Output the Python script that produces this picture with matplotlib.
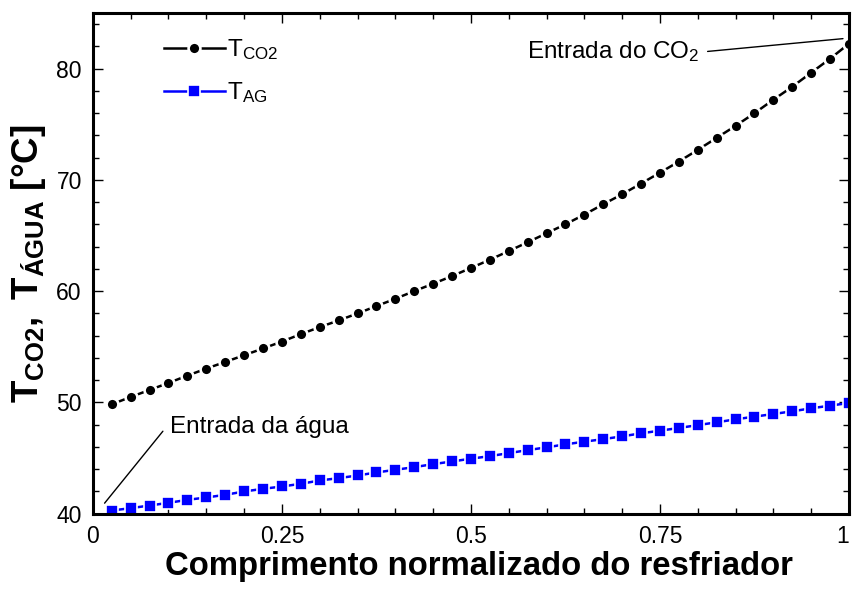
import numpy as np
import matplotlib.pyplot as plt

plt.rcParams['font.family'] = ['Liberation Sans', 'DejaVu Sans']
plt.rcParams['mathtext.fontset'] = 'custom'
plt.rcParams['mathtext.rm'] = 'Liberation Sans'
plt.rcParams['mathtext.it'] = 'Liberation Sans'
plt.rcParams['mathtext.bf'] = 'Liberation Sans:bold'

# ----------- DATA -----------
x = np.arange(1, 41) * 0.025

t_co2 = [49.82, 50.48, 51.11, 51.74, 52.40, 53.03, 53.63, 54.23, 54.84, 55.46,
         56.13, 56.76, 57.36, 57.99, 58.65, 59.31, 60.00, 60.66, 61.35, 62.08,
         62.82, 63.60, 64.39, 65.20, 66.01, 66.88, 67.81, 68.71, 69.67, 70.65,
         71.65, 72.70, 73.78, 74.86, 76.00, 77.21, 78.38, 79.64, 80.90, 82.25]

t_ag = [40.27, 40.48, 40.72, 40.96, 41.23, 41.44, 41.68, 41.98, 42.22, 42.43,
        42.67, 42.97, 43.18, 43.42, 43.69, 43.93, 44.17, 44.44, 44.68, 44.93,
        45.16, 45.43, 45.70, 45.95, 46.22, 46.46, 46.69, 46.94, 47.21, 47.45,
        47.69, 47.95, 48.20, 48.47, 48.71, 48.95, 49.19, 49.46, 49.70, 49.94]

xticks = [0, 0.25, 0.5, 0.75, 1]
xticklabels = ['0', '0.25', '0.5', '0.75', '1']
yticks = [40, 50, 60, 70, 80]

# ----------- PLOT -----------
fig = plt.figure(figsize=(8.52, 5.94), dpi=100)
ax = fig.add_axes([0.109, 0.1355, 0.8875, 0.8425])

ax.plot(x, t_co2, color='black', lw=1.8, marker='o', ms=8.5,
        mfc='black', mec='white', mew=1.9, label=r'T$_{\rm CO2}$')
ax.plot(x, t_ag, color='blue', lw=1.8, marker='s', ms=8.3,
        mfc='blue', mec='white', mew=1.2, label=r'T$_{\rm AG}$')

ax.set_xlim(0, 1)
ax.set_ylim(40, 85)
ax.set_xticks(xticks)
ax.set_xticklabels(xticklabels)
ax.set_xticks(np.arange(0, 1.0001, 0.05), minor=True)
ax.set_yticks(yticks)
ax.set_yticks(np.arange(40, 85.1, 2), minor=True)
ax.tick_params(which='both', direction='in', top=True, right=True,
               labelsize=16.5, width=1)
ax.tick_params(which='major', length=7, pad=8)
ax.tick_params(which='minor', length=4)
ax.get_xticklabels()[-1].set_horizontalalignment('right')
for s in ax.spines.values():
    s.set_linewidth(2.2)

ax.set_xlabel('Comprimento normalizado do resfriador', fontsize=23.7,
              fontweight='bold', labelpad=2)
ax.xaxis.set_label_coords(0.51, -0.075)
ax.set_ylabel(r'$\mathbf{T_{CO2},\ T_{ÁGUA}\ [°C]}$', fontsize=26.5, labelpad=6)

# annotations: text and leader line drawn separately
ax.text(0.802, 81.5, r'Entrada do CO$_2$', fontsize=17.5, ha='right', va='center')
ax.annotate('', xy=(0.992, 82.7), xytext=(0.813, 81.55),
            arrowprops=dict(arrowstyle='-', color='black', lw=1,
                            shrinkA=0, shrinkB=0))
ax.text(0.102, 47.75, 'Entrada da água', fontsize=17.5, ha='left', va='center')
ax.annotate('', xy=(0.0155, 40.93), xytext=(0.0926, 47.4),
            arrowprops=dict(arrowstyle='-', color='black', lw=1,
                            shrinkA=0, shrinkB=0))

ax.legend(loc='upper left', bbox_to_anchor=(0.065, 0.995), frameon=False,
          fontsize=17.5, handlelength=2.5, handletextpad=0.1,
          labelspacing=0.75)

fig.savefig('out.png', dpi=100)
